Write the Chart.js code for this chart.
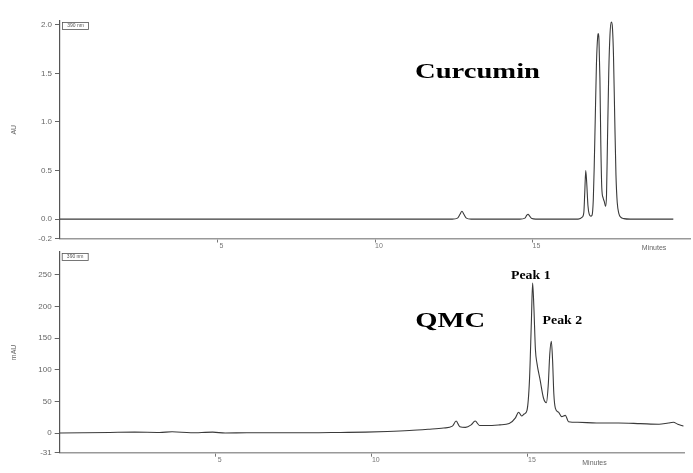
<!DOCTYPE html>
<html><head><meta charset="utf-8">
<script src="https://cdn.jsdelivr.net/npm/chart.js@4.4.1/dist/chart.umd.min.js"></script>
<style>
html,body{margin:0;padding:0;background:#fff;width:693px;height:473px;overflow:hidden}
#top{position:absolute;left:0;top:0;width:693px;height:252px}
#bot{position:absolute;left:0;top:250px;width:693px;height:223px}
</style></head><body>
<div id="top"><canvas id="c1"></canvas></div>
<div id="bot"><canvas id="c2"></canvas></div>
<script>
// ---- data ----
const curcuminTime = [0,12.45,12.62,12.70,12.76,12.82,12.90,13.05,14.6,14.76,14.82,14.86,14.91,14.98,15.1,16.45,16.58,16.63,16.66,16.69,16.72,16.76,16.80,16.85,16.89,16.93,16.96,16.99,17.03,17.07,17.09,17.11,17.14,17.17,17.20,17.24,17.28,17.32,17.35,17.38,17.42,17.46,17.50,17.53,17.57,17.61,17.65,17.69,17.74,17.80,17.9,18.1,19.47];
const curcuminAU = [0,0,0.01,0.05,0.08,0.05,0.01,0,0,0.01,0.04,0.05,0.03,0.005,0,0,0.02,0.07,0.28,0.5,0.38,0.14,0.05,0.03,0.04,0.2,0.55,1.0,1.6,1.88,1.91,1.85,1.45,0.75,0.32,0.22,0.18,0.13,0.25,0.8,1.5,1.9,2.03,2.0,1.7,1.05,0.45,0.17,0.06,0.02,0.005,0,0];
const qmcTime = [0,0.8,1.6,2.4,3.2,3.6,4.2,4.9,5.3,6.0,7.0,8.0,9.0,9.8,10.5,11.2,11.8,12.3,12.58,12.70,12.82,13.0,13.18,13.31,13.45,13.7,14.1,14.4,14.6,14.70,14.80,14.88,14.97,15.05,15.11,15.15,15.19,15.24,15.29,15.39,15.50,15.59,15.65,15.70,15.75,15.79,15.83,15.88,15.98,16.08,16.20,16.30,16.6,17.2,17.9,18.6,19.2,19.5,19.66,19.8,19.98];
const qmcMAU = [0,0.5,1,1.5,1,2,0.5,1.5,0,0.5,0.5,0.5,1,1.5,2.5,4,6,8,11,19,10,9,13,19,12,12,13,15,24,33,27,30,36,84,175,237,200,132,110,84,55,48,75,125,145,115,62,39,33,26,28,18,17,16,16,15,14,16,17,14,11];
const xTicks = [5,10,15];
const topYTicks = [-0.2,0,0.5,1.0,1.5,2.0];
const botYTicks = [-31,0,50,100,150,200,250];

const SANS = '"Liberation Sans", Arial, sans-serif';
const SERIF = '"Liberation Serif", "Times New Roman", serif';

const annotPlugin = {
  id: 'annot',
  afterDraw(chart, args, opts) {
    const ctx = chart.ctx, xs = chart.scales.x, ys = chart.scales.y, ca = chart.chartArea;
    ctx.save();
    // wavelength box
    ctx.strokeStyle = '#555'; ctx.lineWidth = 0.8;
    ctx.strokeRect(ca.left + 2.5, ca.top + 1.5, 26, 7);
    ctx.fillStyle = '#555'; ctx.font = '5px ' + SANS;
    ctx.textBaseline = 'middle'; ctx.textAlign = 'center';
    ctx.fillText(opts.boxLabel, ca.left + 15.5, ca.top + 5);
    // axis unit
    ctx.font = '7px ' + SANS; ctx.fillStyle = '#666'; ctx.textAlign = 'left';
    ctx.fillText(opts.minutesLabel, xs.getPixelForValue(opts.minutesAt), ca.bottom + opts.minutesDy);
    // annotations
    for (const a of opts.items) {
      ctx.font = 'bold ' + a.size + 'px ' + SERIF;
      ctx.fillStyle = '#000'; ctx.textBaseline = 'alphabetic'; ctx.textAlign = 'left';
      ctx.save();
      ctx.translate(xs.getPixelForValue(a.x), ys.getPixelForValue(a.y));
      ctx.scale(a.sx, 1);
      ctx.fillText(a.text, 0, 0);
      ctx.restore();
    }
    ctx.restore();
  }
};

function makeChart(id, times, vals, cfg) {
  return new Chart(document.getElementById(id), {
    type: 'line',
    data: { datasets: [{
      data: times.map((t, i) => ({ x: t, y: vals[i] })),
      borderColor: '#3a3a3a', borderWidth: 1.1, pointRadius: 0,
      cubicInterpolationMode: 'monotone', fill: false
    }]},
    options: {
      responsive: true, maintainAspectRatio: false, animation: false,
      devicePixelRatio: 1,
      layout: { padding: cfg.pad },
      plugins: { legend: { display: false }, tooltip: { enabled: false }, annot: cfg.annot },
      scales: {
        x: {
          type: 'linear', min: 0, max: 20,
          afterBuildTicks: s => { s.ticks = xTicks.map(v => ({ value: v })); },
          afterFit: s => { s.height = cfg.xH; s.paddingLeft = 0; s.paddingRight = 0; },
          ticks: { font: { size: 7, family: SANS }, color: '#777', padding: -1, labelOffset: 4, maxRotation: 0, autoSkip: false },
          grid: { drawOnChartArea: false, tickLength: 4, color: '#777' },
          border: { color: '#999', width: 1.5 }
        },
        y: {
          type: 'linear', min: cfg.ymin, max: cfg.ymax,
          afterBuildTicks: s => { s.ticks = cfg.yTicks.map(v => ({ value: v })); },
          afterFit: s => { s.width = cfg.yW; s.paddingTop = 0; s.paddingBottom = 0; },
          ticks: { callback: cfg.fmt, font: { size: 8, family: SANS }, color: '#666', padding: 3, autoSkip: false },
          grid: { drawOnChartArea: false, tickLength: 5, color: '#666' },
          border: { color: '#555', width: 1.2 },
          title: { display: true, text: cfg.yTitle, font: { size: 7, family: SANS }, color: '#666', padding: { top: 10, bottom: 0 } }
        }
      }
    },
    plugins: [annotPlugin]
  });
}

makeChart('c1', curcuminTime, curcuminAU, {
  pad: { top: 21, right: 3, left: 0, bottom: 0 },
  xH: 13.5, yW: 60, ymin: -0.2, ymax: 2.04, yTicks: topYTicks,
  fmt: v => Number(v).toFixed(1), yTitle: 'AU',
  annot: {
    boxLabel: '390 nm', minutesLabel: 'Minutes', minutesAt: 18.47, minutesDy: 9.5,
    items: [{ text: 'Curcumin', x: 11.27, y: 1.456, size: 22, sx: 1.3 }]
  }
});

makeChart('c2', qmcTime, qmcMAU, {
  pad: { top: 2, right: 9, left: 0, bottom: 0 },
  xH: 20.3, yW: 59.7, ymin: -31, ymax: 286, yTicks: botYTicks,
  fmt: v => String(v), yTitle: 'mAU',
  annot: {
    boxLabel: '390 nm', minutesLabel: 'Minutes', minutesAt: 16.74, minutesDy: 10.5,
    items: [
      { text: 'QMC', x: 11.39, y: 167, size: 22, sx: 1.3 },
      { text: 'Peak 1', x: 14.46, y: 242.7, size: 11.5, sx: 1.2 },
      { text: 'Peak 2', x: 15.47, y: 172, size: 11.5, sx: 1.2 }
    ]
  }
});
</script>
</body></html>
